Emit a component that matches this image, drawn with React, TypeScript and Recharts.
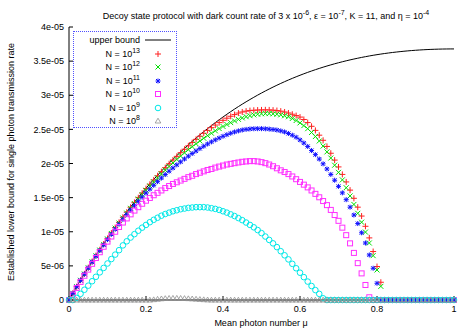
import React from 'react';
import { ComposedChart, Line, Scatter, XAxis, YAxis } from 'recharts';

// mean photon number grid
const mu = [
  0, 0.01, 0.02, 0.03, 0.04, 0.05, 0.06, 0.07, 0.08, 0.09,
  0.1, 0.11, 0.12, 0.13, 0.14, 0.15, 0.16, 0.17, 0.18, 0.19,
  0.2, 0.21, 0.22, 0.23, 0.24, 0.25, 0.26, 0.27, 0.28, 0.29,
  0.3, 0.31, 0.32, 0.33, 0.34, 0.35, 0.36, 0.37, 0.38, 0.39,
  0.4, 0.41, 0.42, 0.43, 0.44, 0.45, 0.46, 0.47, 0.48, 0.49,
  0.5, 0.51, 0.52, 0.53, 0.54, 0.55, 0.56, 0.57, 0.58, 0.59,
  0.6, 0.61, 0.62, 0.63, 0.64, 0.65, 0.66, 0.67, 0.68, 0.69,
  0.7, 0.71, 0.72, 0.73, 0.74, 0.75, 0.76, 0.77, 0.78, 0.79,
  0.8, 0.81, 0.82, 0.83, 0.84, 0.85, 0.86, 0.87, 0.88, 0.89,
  0.9, 0.91, 0.92, 0.93, 0.94, 0.95, 0.96, 0.97, 0.98, 0.99,
  1,
];

// all series below are in units of 1e-6
const UNIT = 1e-6;

const upperBound = [
  0, 0.99, 1.96, 2.911, 3.843, 4.756, 5.651, 6.527, 7.385, 8.225,
  9.048, 9.854, 10.643, 11.415, 12.171, 12.911, 13.634, 14.342, 15.035, 15.712,
  16.375, 17.022, 17.655, 18.274, 18.879, 19.47, 20.047, 20.611, 21.162, 21.7,
  22.225, 22.737, 23.237, 23.724, 24.2, 24.664, 25.116, 25.557, 25.987, 26.405,
  26.813, 27.21, 27.596, 27.972, 28.338, 28.693, 29.039, 29.375, 29.702, 30.019,
  30.327, 30.625, 30.915, 31.196, 31.468, 31.732, 31.988, 32.235, 32.474, 32.705,
  32.929, 33.144, 33.353, 33.553, 33.747, 33.933, 34.112, 34.284, 34.45, 34.609,
  34.761, 34.907, 35.046, 35.179, 35.306, 35.428, 35.543, 35.652, 35.756, 35.854,
  35.946, 36.033, 36.115, 36.192, 36.264, 36.33, 36.392, 36.449, 36.501, 36.548,
  36.591, 36.63, 36.664, 36.694, 36.719, 36.74, 36.758, 36.771, 36.78, 36.786,
  36.788,
];

const n13 = [
  0, 0.98, 1.95, 2.9, 3.83, 4.74, 5.63, 6.5, 7.36, 8.2,
  9.02, 9.82, 10.61, 11.38, 12.13, 12.87, 13.59, 14.3, 14.99, 15.66,
  16.32, 16.96, 17.59, 18.2, 18.8, 19.39, 19.96, 20.51, 21.05, 21.58,
  22.09, 22.59, 23.07, 23.54, 23.99, 24.43, 24.85, 25.25, 25.63, 25.99,
  26.33, 26.64, 26.92, 27.17, 27.39, 27.55, 27.67, 27.75, 27.8, 27.83,
  27.85, 27.86, 27.85, 27.82, 27.76, 27.67, 27.55, 27.4, 27.22, 27.02,
  26.8, 26.45, 26.0, 25.45, 24.85, 24.15, 23.4, 22.5, 21.5, 20.5,
  19.5, 18.4, 17.3, 16.1, 14.9, 13.6, 12.3, 10.8, 9.1, 7.1,
  4.9, 2.6, 0, 0, 0, 0, 0, 0, 0, 0,
  0, 0, 0, 0, 0, 0, 0, 0, 0, 0,
  0,
];

const n12 = [
  0, 0.98, 1.94, 2.89, 3.81, 4.72, 5.6, 6.47, 7.31, 8.14,
  8.95, 9.74, 10.52, 11.27, 12.01, 12.73, 13.43, 14.12, 14.79, 15.44,
  16.08, 16.7, 17.3, 17.89, 18.46, 19.02, 19.56, 20.08, 20.59, 21.08,
  21.56, 22.02, 22.46, 22.89, 23.3, 23.7, 24.08, 24.44, 24.79, 25.12,
  25.43, 25.72, 25.99, 26.24, 26.47, 26.68, 26.86, 27.01, 27.13, 27.22,
  27.28, 27.31, 27.31, 27.28, 27.22, 27.13, 27.0, 26.85, 26.6, 26.3,
  25.95, 25.55, 25.1, 24.55, 23.95, 23.3, 22.55, 21.7, 20.8, 19.75,
  18.7, 17.6, 16.45, 15.25, 14.0, 12.7, 11.4, 9.95, 8.35, 6.5,
  4.4, 2.0, 0, 0, 0, 0, 0, 0, 0, 0,
  0, 0, 0, 0, 0, 0, 0, 0, 0, 0,
  0,
];

const n11 = [
  0, 0.98, 1.94, 2.88, 3.8, 4.69, 5.57, 6.42, 7.25, 8.06,
  8.85, 9.62, 10.37, 11.1, 11.81, 12.5, 13.17, 13.82, 14.45, 15.06,
  15.66, 16.24, 16.8, 17.34, 17.87, 18.38, 18.87, 19.34, 19.8, 20.24,
  20.66, 21.07, 21.46, 21.83, 22.19, 22.53, 22.86, 23.17, 23.46, 23.73,
  23.99, 24.22, 24.43, 24.62, 24.78, 24.91, 25.0, 25.06, 25.09, 25.1,
  25.1, 25.08, 25.04, 24.98, 24.9, 24.78, 24.62, 24.4, 24.15, 23.85,
  23.45, 23.0, 22.5, 21.9, 21.3, 20.65, 19.95, 19.2, 18.4, 17.55,
  16.65, 15.7, 14.7, 13.6, 12.45, 11.2, 9.85, 8.35, 6.6, 4.65,
  2.45, 0, 0, 0, 0, 0, 0, 0, 0, 0,
  0, 0, 0, 0, 0, 0, 0, 0, 0, 0,
  0,
];

const n10 = [
  0, 0.8, 1.75, 2.65, 3.55, 4.45, 5.3, 6.15, 7.0, 7.8,
  8.55, 9.3, 10.0, 10.7, 11.35, 11.95, 12.55, 13.1, 13.6, 14.1,
  14.55, 14.95, 15.35, 15.7, 16.05, 16.4, 16.7, 17.0, 17.25, 17.5,
  17.75, 18.0, 18.2, 18.45, 18.65, 18.85, 19.05, 19.2, 19.4, 19.55,
  19.7, 19.85, 19.95, 20.05, 20.15, 20.25, 20.3, 20.35, 20.35, 20.3,
  20.2, 20.05, 19.85, 19.6, 19.3, 19.0, 18.75, 18.45, 18.1, 17.7,
  17.3, 16.9, 16.5, 16.05, 15.55, 15.05, 14.5, 13.9, 13.2, 12.45,
  11.6, 10.6, 9.5, 8.3, 6.9, 5.4, 3.9, 2.2, 0.4, 0,
  0, 0, 0, 0, 0, 0, 0, 0, 0, 0,
  0, 0, 0, 0, 0, 0, 0, 0, 0, 0,
  0,
];

const n9 = [
  0, 0, 0.3, 0.9, 1.5, 2.1, 2.75, 3.4, 4.05, 4.7,
  5.35, 6.0, 6.65, 7.3, 8.0, 8.6, 9.15, 9.65, 10.15, 10.6,
  11.0, 11.4, 11.75, 12.05, 12.35, 12.6, 12.8, 13.0, 13.15, 13.3,
  13.4, 13.5, 13.55, 13.6, 13.6, 13.6, 13.55, 13.45, 13.35, 13.2,
  13.0, 12.8, 12.55, 12.3, 12.0, 11.7, 11.35, 11.0, 10.65, 10.25,
  9.8, 9.3, 8.8, 8.3, 7.75, 7.15, 6.55, 5.95, 5.3, 4.65,
  4.0, 3.35, 2.7, 2.05, 1.45, 0.9, 0.25, 0, 0, 0,
  0, 0, 0, 0, 0, 0, 0, 0, 0, 0,
  0, 0, 0, 0, 0, 0, 0, 0, 0, 0,
  0, 0, 0, 0, 0, 0, 0, 0, 0, 0,
  0,
];

const n8 = [
  0, 0, 0, 0, 0, 0, 0, 0, 0, 0,
  0, 0, 0, 0, 0, 0, 0, 0, 0, 0,
  0, 0, 0.05, 0.12, 0.18, 0.22, 0.25, 0.26, 0.26, 0.25,
  0.23, 0.2, 0.17, 0.13, 0.09, 0.05, 0.02, 0, 0, 0,
  0, 0, 0, 0, 0, 0, 0, 0, 0, 0,
  0, 0, 0, 0, 0, 0, 0, 0, 0, 0,
  0, 0, 0, 0, 0, 0, 0, 0, 0, 0,
  0, 0, 0, 0, 0, 0, 0, 0, 0, 0,
  0, 0, 0, 0, 0, 0, 0, 0, 0, 0,
  0, 0, 0, 0, 0, 0, 0, 0, 0, 0,
  0,
];

const xTicks = [0, 0.2, 0.4, 0.6, 0.8, 1];
const xTickLabels = ['0', '0.2', '0.4', '0.6', '0.8', '1'];
const yTicks = [0, 5e-6, 1e-5, 1.5e-5, 2e-5, 2.5e-5, 3e-5, 3.5e-5, 4e-5];
const yTickLabels = ['0', '5e-06', '1e-05', '1.5e-05', '2e-05', '2.5e-05', '3e-05', '3.5e-05', '4e-05'];

const data = mu.map((m, i) => ({
  mu: m,
  ub: upperBound[i] * UNIT,
  n13: n13[i] * UNIT,
  n12: n12[i] * UNIT,
  n11: n11[i] * UNIT,
  n10: n10[i] * UNIT,
  n9: n9[i] * UNIT,
  n8: n8[i] * UNIT,
}));

const FONT = '"Liberation Sans", Arial, Helvetica, sans-serif';

// point shapes (gnuplot style)
type Mark = (cx: number, cy: number, color: string) => React.ReactElement;

const plusMark: Mark = (cx, cy, c) => (
  <path d={`M${cx - 3} ${cy}H${cx + 3}M${cx} ${cy - 3}V${cy + 3}`} stroke={c} strokeWidth={1} fill="none" />
);
const crossMark: Mark = (cx, cy, c) => (
  <path d={`M${cx - 2.5} ${cy - 2.5}L${cx + 2.5} ${cy + 2.5}M${cx - 2.5} ${cy + 2.5}L${cx + 2.5} ${cy - 2.5}`} stroke={c} strokeWidth={1} fill="none" />
);
const starMark: Mark = (cx, cy, c) => (
  <path
    d={`M${cx - 2.5} ${cy}H${cx + 2.5}M${cx} ${cy - 2.5}V${cy + 2.5}M${cx - 2} ${cy - 2}L${cx + 2} ${cy + 2}M${cx - 2} ${cy + 2}L${cx + 2} ${cy - 2}`}
    stroke={c}
    strokeWidth={1}
    fill="none"
  />
);
const squareMark: Mark = (cx, cy, c) => (
  <rect x={cx - 2.5} y={cy - 2.5} width={5} height={5} stroke={c} strokeWidth={1} fill="none" />
);
const circleMark: Mark = (cx, cy, c) => <circle cx={cx} cy={cy} r={2.8} stroke={c} strokeWidth={1} fill="none" />;
const triangleMark: Mark = (cx, cy, c) => (
  <path d={`M${cx} ${cy - 2.8}L${cx + 2.8} ${cy + 2}L${cx - 2.8} ${cy + 2}Z`} stroke={c} strokeWidth={0.8} fill="none" />
);

const series = [
  { key: 'n13', exp: '13', color: '#ff2020', mark: plusMark },
  { key: 'n12', exp: '12', color: '#00e000', mark: crossMark },
  { key: 'n11', exp: '11', color: '#1010ff', mark: starMark },
  { key: 'n10', exp: '10', color: '#ff30ff', mark: squareMark },
  { key: 'n9', exp: '9', color: '#00e8e8', mark: circleMark },
  { key: 'n8', exp: '8', color: '#909090', mark: triangleMark },
];

const supStyle: React.CSSProperties = {
  fontSize: 7,
  verticalAlign: 'baseline',
  position: 'relative',
  top: -4,
  lineHeight: 1,
};

function KeyBox() {
  const rowH = 13.5;
  const rows = [
    { label: <span>upper bound</span>, icon: <path d="M0 5H26" stroke="#000" strokeWidth={1} /> },
    ...series.map((s) => ({
      label: (
        <span>
          N = 10<span style={supStyle}>{s.exp}</span>
        </span>
      ),
      icon: s.mark(13, 5, s.color),
    })),
  ];
  return (
    <div
      style={{
        position: 'absolute',
        left: 73,
        top: 31,
        width: 102,
        height: 95,
        border: '1px dotted #5050ff',
        fontFamily: FONT,
        fontSize: 9,
        color: '#000',
      }}
    >
      {rows.map((r, i) => (
        <div key={i} style={{ position: 'absolute', top: 2 + i * rowH, left: 0, height: rowH, width: 102 }}>
          <div style={{ position: 'absolute', right: 36, top: 0, whiteSpace: 'nowrap', lineHeight: '12px' }}>{r.label}</div>
          <svg style={{ position: 'absolute', left: 71, top: 1 }} width={26} height={10}>
            {r.icon}
          </svg>
        </div>
      ))}
    </div>
  );
}

export default function App() {
  return (
    <div style={{ position: 'absolute', left: 0, top: 0, width: 469, height: 328, background: '#fff', fontFamily: FONT }}>
      <div
        style={{
          position: 'absolute',
          left: 62,
          top: 10,
          width: 408,
          textAlign: 'center',
          fontSize: 9,
          whiteSpace: 'nowrap',
          lineHeight: '12px',
          color: '#000',
        }}
      >
        Decoy state protocol with dark count rate of 3 x 10<span style={supStyle}>-6</span>, ε = 10
        <span style={supStyle}>-7</span>, K = 11, and η = 10<span style={supStyle}>-4</span>
      </div>
      <ComposedChart width={469} height={328} data={data} margin={{ top: 27, right: 15, bottom: 0, left: 0 }}>
        <XAxis
          dataKey="mu"
          type="number"
          domain={[0, 1]}
          ticks={xTicks}
          tickFormatter={(_v: number, i: number) => xTickLabels[i]}
          height={28}
          tickSize={-4}
          tickMargin={10}
          axisLine={{ stroke: '#000' }}
          tickLine={{ stroke: '#000' }}
          tick={{ fontSize: 9, fill: '#000', fontFamily: FONT }}
          label={() => (
            <text x={261} y={323} textAnchor="middle" dominantBaseline="central" fontSize={9} fontFamily={FONT} fill="#000">
              Mean photon number μ
            </text>
          )}
        />
        <XAxis
          xAxisId="top"
          orientation="top"
          type="number"
          dataKey="mu"
          domain={[0, 1]}
          ticks={xTicks}
          height={0}
          tickSize={-4}
          tick={false}
          axisLine={{ stroke: '#000' }}
          tickLine={{ stroke: '#000' }}
        />
        <YAxis
          type="number"
          domain={[0, 4e-5]}
          ticks={yTicks}
          tickFormatter={(_v: number, i: number) => yTickLabels[i]}
          width={69}
          tickSize={-4}
          tickMargin={9}
          axisLine={{ stroke: '#000' }}
          tickLine={{ stroke: '#000' }}
          tick={{ fontSize: 9, fill: '#000', fontFamily: FONT }}
          label={() => (
            <text
              x={11}
              y={162}
              transform="rotate(-90, 11, 162)"
              textAnchor="middle"
              dominantBaseline="central"
              fontSize={9}
              fontFamily={FONT}
              fill="#000"
            >
              Established lower bound for single photon transmission rate
            </text>
          )}
        />
        <YAxis
          yAxisId="right"
          orientation="right"
          type="number"
          domain={[0, 4e-5]}
          ticks={yTicks}
          width={0}
          tickSize={-4}
          tick={false}
          axisLine={{ stroke: '#000' }}
          tickLine={{ stroke: '#000' }}
        />
        <Line dataKey="ub" type="linear" stroke="#000" strokeWidth={1} dot={false} isAnimationActive={false} />
        {series.map((s) => (
          <Scatter
            key={s.key}
            dataKey={s.key}
            isAnimationActive={false}
            shape={(p: { cx?: number; cy?: number }) => s.mark(p.cx ?? 0, p.cy ?? 0, s.color)}
          />
        ))}
      </ComposedChart>
      <KeyBox />
    </div>
  );
}
